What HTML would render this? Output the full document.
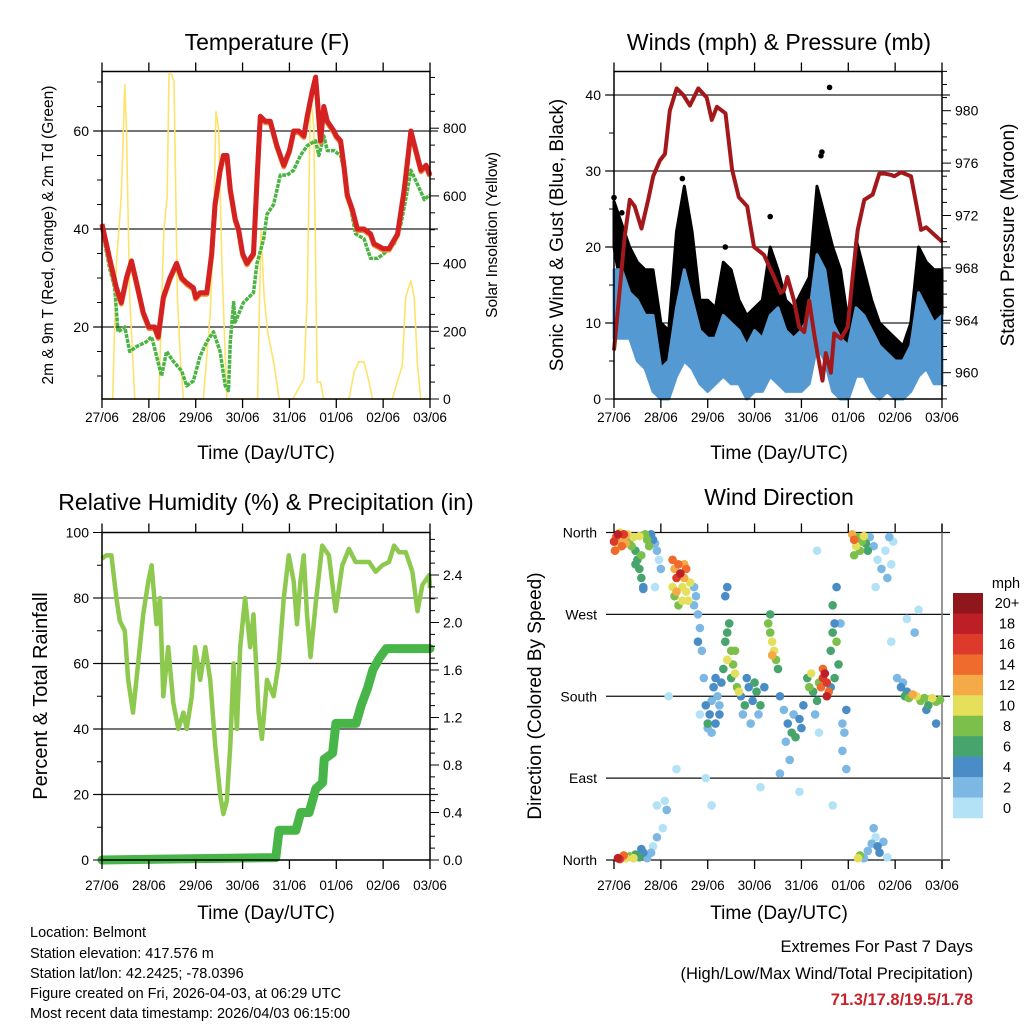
<!DOCTYPE html>
<html><head><meta charset="utf-8">
<style>
html,body{margin:0;padding:0;background:#fff;}
svg{display:block;font-family:"Liberation Sans",sans-serif;}
</style></head>
<body>
<svg id="root" width="1024" height="1024" viewBox="0 0 1024 1024" xmlns="http://www.w3.org/2000/svg">
<rect x="0" y="0" width="1024" height="1024" fill="#fff"/>
<g id="g-temp"></g>
<g id="g-wind"></g>
<g id="g-rh"></g>
<g id="g-dir"></g>

<text x="267" y="50" font-size="23" text-anchor="middle">Temperature (F)</text>
<text x="779" y="50" font-size="23" text-anchor="middle">Winds (mph) &amp; Pressure (mb)</text>
<text x="266" y="510" font-size="23" text-anchor="middle">Relative Humidity (%) &amp; Precipitation (in)</text>
<text x="779" y="505" font-size="23" text-anchor="middle">Wind Direction</text>

<text x="266" y="459" font-size="19" text-anchor="middle">Time (Day/UTC)</text>
<text x="779" y="459" font-size="19" text-anchor="middle">Time (Day/UTC)</text>
<text x="266" y="919" font-size="19" text-anchor="middle">Time (Day/UTC)</text>
<text x="779" y="919" font-size="19" text-anchor="middle">Time (Day/UTC)</text>

<text transform="translate(53,235) rotate(-90)" font-size="15.5" text-anchor="middle">2m &amp; 9m T (Red, Orange) &amp; 2m Td (Green)</text>
<text transform="translate(497,235) rotate(-90)" font-size="15.5" text-anchor="middle">Solar Insolation (Yellow)</text>
<text transform="translate(563,235) rotate(-90)" font-size="19" text-anchor="middle">Sonic Wind &amp; Gust (Blue, Black)</text>
<text transform="translate(1014,235) rotate(-90)" font-size="19" text-anchor="middle">Station Pressure (Maroon)</text>
<text transform="translate(47,696) rotate(-90)" font-size="20" text-anchor="middle">Percent &amp; Total Rainfall</text>
<text transform="translate(541,696) rotate(-90)" font-size="19" text-anchor="middle">Direction (Colored By Speed)</text>

<g font-size="14.5">
<text x="30" y="937">Location: Belmont</text>
<text x="30" y="958">Station elevation: 417.576 m</text>
<text x="30" y="978">Station lat/lon: 42.2425; -78.0396</text>
<text x="30" y="998">Figure created on Fri, 2026-04-03, at 06:29 UTC</text>
<text x="30" y="1018">Most recent data timestamp: 2026/04/03 06:15:00</text>
</g>
<g font-size="16.5" text-anchor="end">
<text x="973" y="952">Extremes For Past 7 Days</text>
<text x="973" y="979">(High/Low/Max Wind/Total Precipitation)</text>
<text x="973" y="1005" fill="#c8232c" font-weight="bold">71.3/17.8/19.5/1.78</text>
</g>
</svg>
<script>
// ---------- data ----------
const dayLabels = ["27/06","28/06","29/06","30/06","31/06","01/06","02/06","03/06"];
const tHours = [0,3.9,7.4,9.9,12.5,15.1,17.7,21.1,24,27,28.8,31.4,34.8,38.2,40.8,43.4,46.8,48,50.2,53.7,56.2,57.9,60.5,62.2,64,65.7,68.2,69.9,72,74.2,77.6,79.4,81.1,83.6,86.2,89.6,93.1,96,98.2,100.8,103.4,105.1,107.6,109.4,110.2,111.9,113.6,115.4,118.8,120,122.2,123.9,125.6,128.2,130.8,134.2,137.6,139.3,144,147,151.4,154.8,158.2,160.8,163.4,166,168];
const tempRed = [41,34,28,25,30,33.5,29,23,20,20,18,26,30,33,30,29,28,26,27,27,35,45,52,55,55,48,42,40,35,33,35,50,63,62,62,57,53,56,60,60,59,63,68,71,67,58,65,62,60,59,58,53,47,44,40,40,39,37,36,36,39,48,60,56,52,53,51];
const tdHours = [0,3.9,6.5,8.2,11.7,14.2,17.7,22.8,25.4,28,30.5,33.1,36.5,40.8,43.4,46.8,50.2,53.7,57.1,60.5,63.1,64.8,65.7,67.4,68.2,72.5,77.6,79.4,82.8,84.5,87.9,91.3,94.8,98.2,101.6,105.1,109.4,111.1,113.6,115.4,118.8,122.2,123.9,126.5,129.9,134.2,137.6,141.1,144.5,149.7,153.1,156.5,158.2,161.7,165.1,168];
const tempGreen = [40,32,28,19,20,15,16,17,18,14,10,15,13,11,8,9,14,17,19,15,8,7,17,25,21,25,27,33,38,43,45,51,51,52,55,57,58,55,59,56,56,55,52,46,39,38,34,34,35,37,41,48,52,49,46,47];
const solHours = [0,5.5,7.4,9.9,11.7,12.5,14.2,16.8,17.5,29.1,31.7,33.4,34.3,35.5,36.9,38.6,40.3,41.7,51.9,55.4,57.1,58.4,59.7,61.4,63.9,66,79.7,81.4,83.1,84.8,86.5,88.2,90.7,97.8,103.4,105.1,106.8,108.5,110.2,111.9,113.6,115.4,126.5,129.1,131.6,134.2,136.8,138.5,140.2,148.7,153.8,155.5,158.2,159.9,161.6,163.3,168];
const solar = [0,0,400,600,930,800,300,0,0,0,500,600,960,960,940,300,100,0,0,250,500,850,800,400,0,0,0,500,300,200,150,100,0,0,60,300,900,800,50,50,0,0,0,80,110,110,50,0,0,0,100,300,350,300,100,0,0];
const presHours = [0,2.9,5.5,8.1,10.6,14.1,17.5,20.1,23.5,26.1,28.6,32.1,35.5,38.9,43.2,47.5,50.1,52.7,57.1,60.5,63.9,68.2,71.7,76.8,82,85.4,87.1,88.8,92.2,94.8,97.4,100,102.5,104.2,106.8,108.5,111.1,112.8,116.2,119.7,122.2,124.8,128.2,132.5,135.9,138.5,141.9,143.6,147,152.1,157.3,159.9,168];
const pressure = [961.7,966.3,970.4,973.2,972.7,971,973.2,975,976.2,976.7,980,981.7,981.2,980.4,981.7,981,979.3,980.3,979.8,975.5,973.4,972.7,969.6,969,967.3,966.1,966.3,967.3,965.5,963.5,963.1,965.5,963,961.5,959.4,961.5,960,963,962.6,963.5,967.3,970.9,973.2,973.6,975.2,975.2,975.1,975,975.3,975,970.9,971.1,970];
const windHours = [0,4,8,12,16,20,24,28,32,36,40,44,48,52,56,60,64,68,72,76,80,84,88,92,96,100,104,108,112,116,120,124,128,132,136,140,144,148,152,156,160,164,168];
const gustHi = [26,23,20,18,17,17,10,9,22,28,22,13,13,12,18,17,13,11,12,13,20,17,13,12,14,16,28,24,20,17,10,21,17,13,10,9,8,7,10,20,18,17,17];
const gustLo = [20,14,12,10,8,4,2,2,8,12,8,4,3,5,8,8,5,3,4,5,8,8,5,4,5,6,12,10,4,3,2,8,7,4,3,3,2,2,3,6,8,5,6];
const windHi = [17,17,14,13,11,11,4,5,12,17,13,9,8,8,11,10,9,7,9,8,11,12,9,8,9,11,19,17,10,8,7,12,11,9,7,6,5,5,7,14,12,10,11];
const windLo = [8,8,8,5,4,1,0,0,3,5,4,2,1,2,3,2,2,0,1,1,3,2,1,1,1,2,7,5,1,0,0,3,3,1,0,1,0,0,1,3,4,2,2];
const gustOutlierHours = [35,106,106.5,110.4,4,0,57,80];
const gustOutliers = [29,32,32.5,41,24.5,26.5,20,24];
const rhHours = [0,2.2,4.8,7.4,9.1,11.7,13.4,15.9,18.5,21.1,23.7,25.4,27.9,29.7,31.4,33.9,36.5,39.1,41.7,43.4,46,47.7,50.3,52.9,55.4,58,60.5,62.2,63.9,65.7,67.4,69.1,70.8,73.3,75.9,77.6,80.2,81.9,84.5,87.9,90.5,93.1,95.7,98.2,99.9,101.6,103.3,105,106.8,109.4,112.8,116.2,119.7,123.1,126.5,129.9,133.4,136.8,140.2,143.6,147,149.6,152.1,155.6,159];
const rh = [92,93,93,80,73,70,55,45,60,75,85,90,72,80,50,65,48,40,45,40,50,65,55,65,55,35,20,14,18,35,60,40,65,80,65,75,45,37,55,50,60,80,93,85,72,85,93,75,62,78,96,93,76,90,95,91,91,91,88,90,91,96,94,94,88];
const rh2Hours = [159,161.6,164.1,167.6,168];
const rh2 = [88,76,84,87,83];
const prHours = [0,89,90.7,99.3,101.8,106.1,109.5,113,113.8,118.1,119.8,130.1,132.7,136.1,138.7,142.1,145.6,168];
const precip = [0,0.02,0.25,0.25,0.4,0.4,0.6,0.65,0.85,0.9,1.15,1.15,1.3,1.45,1.6,1.7,1.78,1.78];
const speedColors = ["#b3e2f7","#7cb8e3","#4a8cc5","#46a46c","#7cc04b","#e5e05b","#f5aa48","#ef6a2d","#dd3a2b","#be1e26","#8f161b"];
const speedLabels = ["0","2","4","6","8","10","12","14","16","18","20+"];
const dirHours = [0,1,2,3,4,5,6,0.5,2,3,4.5,6,7,8,9,10,11,12,13,14,15,15,13,16,17,18,11,14,19,20,21,22,23,21,24,30,31,32,33,34,35,36,37,38,31,33,35,36,37,39,30,32,41,42,43,44,43,45,41,46,47,48,49,50,51,52,53,54,52,48,50,55,54,57,58,59,60,61,62,63,64,58,60,56,62,57,58,65,67,69,71,73,75,77,66,70,74,68,72,79,80,81,82,83,80,84,81,85,87,89,91,93,95,97,88,92,90,96,99,100,102,104,105,101,103,106,107,108,109,110,107,109,111,112,113,114,115,113,112,111,114,117,118,119,117,119,122,123,124,125,126,127,128,129,130,123,131,133,135,137,139,141,143,142,134,140,145,147,149,151,153,155,157,159,161,163,165,167,150,160,148,165,2,3,4,5,6,8,10,11,13,15,14,17,19,20,22,25,27,26,22,125,126,128,130,132,134,136,138,140,133,135,28,32,44,47,50,75,85,95,105,112,142,150,154,156,116,104];
const dirDeg = [350,355,358,352,345,358,348,340,343,360,355,357,358,352,345,355,340,330,320,310,300,298,356,358,352,345,325,335,358,352,348,340,330,300,320,330,320,310,325,315,300,310,295,285,290,280,285,325,320,305,300,295,300,290,270,255,240,230,280,200,170,150,160,175,190,200,180,160,150,145,140,195,170,240,250,260,230,215,205,190,185,220,200,210,230,290,300,180,170,190,175,185,170,190,160,150,160,200,195,260,250,240,230,220,270,210,225,180,165,150,140,135,155,170,130,160,110,145,200,190,185,175,195,205,160,190,200,205,195,185,210,180,230,250,260,240,215,200,280,190,300,150,140,165,120,100,358,352,345,355,340,350,356,348,340,335,355,345,330,320,340,355,350,325,300,310,200,190,180,178,182,180,175,178,170,178,174,176,185,165,195,150,2,1,3,5,2,4,2,6,3,8,12,2,8,15,25,35,55,65,60,2,5,2,10,18,25,8,20,3,35,15,180,100,160,90,60,80,95,75,140,60,240,265,250,275,260,340];
const dirSpeed = [16,14,18,12,15,17,13,14,11,10,12,12,10,9,8,10,7,6,7,6,4,4,11,9,8,8,6,8,5,4,3,2,1,1,2,14,12,16,14,18,10,12,10,11,8,8,10,12,14,10,10,12,3,3,2,3,4,2,3,2,4,6,4,3,4,5,3,4,4,2,2,4,2,6,7,6,8,9,10,8,10,10,7,6,8,4,4,4,6,5,4,6,7,4,3,3,2,5,6,8,9,10,11,9,7,6,12,4,3,5,6,7,4,5,3,2,2,4,7,8,7,6,9,10,3,14,16,18,17,15,14,19,7,6,5,8,7,6,6,4,4,3,2,4,2,2,12,14,10,8,8,9,10,7,6,8,3,2,1,2,1,2,1,1,1,2,3,4,6,8,12,10,9,8,6,10,8,8,4,4,2,4,18,16,12,14,10,8,10,6,6,4,4,2,2,1,2,1,2,1,1,10,8,2,2,2,1,4,2,1,2,4,1,1,1,1,1,1,2,1,1,1,1,1,2,1,2,1];

// ---------- helpers ----------
const NS = "http://www.w3.org/2000/svg";
function mk(parent, tag, attrs){
  const e = document.createElementNS(NS, tag);
  for (const k in attrs) e.setAttribute(k, attrs[k]);
  parent.appendChild(e);
  return e;
}
function pathFrom(xs, ys, fx, fy){
  let d = "";
  for (let i=0;i<xs.length;i++) d += (i?"L":"M") + fx(xs[i]).toFixed(1) + " " + fy(ys[i]).toFixed(1);
  return d;
}
function band(xs, lo, hi, fx, fy){
  let d = "";
  for (let i=0;i<xs.length;i++) d += (i?"L":"M") + fx(xs[i]).toFixed(1) + " " + fy(hi[i]).toFixed(1);
  for (let i=xs.length-1;i>=0;i--) d += "L" + fx(xs[i]).toFixed(1) + " " + fy(lo[i]).toFixed(1);
  return d + "Z";
}
function xAxis(g, x0, x1, yTop, yBot, labelY){
  const fx = h => x0 + h*(x1-x0)/168;
  for (let i=0;i<dayLabels.length;i++){
    const x = fx(i*24);
    const t1 = mk(g,"line",{x1:x,y1:yBot,x2:x,y2:yBot+9,stroke:"#000","stroke-width":1.3});
    
    
    const t2 = mk(g,"line",{x1:x,y1:yTop,x2:x,y2:yTop-9,stroke:"#000","stroke-width":1.3});
    
    
    const tx = mk(g,"text",{x:x,y:labelY,"font-size":13.5,"text-anchor":"middle"});
    tx.textContent = dayLabels[i];
    
    
  }
}
function yTicks(g, side, x, vmin, vmax, major, minor, fy, fmt, majorBase){
  const dir = side==="left" ? -1 : 1;
  const base = majorBase===undefined ? 0 : majorBase;
  for (let v=vmin; v<=vmax+1e-9; v+=minor){
    const q = (v-base)/major;
    const isMajor = Math.abs(q - Math.round(q)) < 1e-6;
    const y = fy(v);
    const t = mk(g,"line",{x1:x,y1:y,x2:x+dir*(isMajor?9:5),y2:y,stroke:"#000","stroke-width":1});
    
    
    if (isMajor){
      const tx = mk(g,"text",{x:x+dir*13,y:y+5,"font-size":14,"text-anchor":side==="left"?"end":"start"});
      tx.textContent = fmt(v);
      
      
    }
  }
}
function hline(g, x0, x1, y, col){
  const l = mk(g,"line",{x1:x0,y1:y,x2:x1,y2:y,stroke:col||"#000","stroke-width":1.2});
  
  
}

// ---------- Temperature ----------
(function(){
  const g = document.getElementById("g-temp");
  const X0=102, X1=430, YT=71.5, YB=399;
  const fx = h => X0 + h*(X1-X0)/168;
  const fy = v => 327 - (v-20)*4.9;
  const fs = w => 399 - w*0.3385;
  [20,40,60].forEach(v=>hline(g,X0-8,X1+8,fy(v),"#222"));
  const sol = mk(g,"path",{d:pathFrom(solHours,solar,fx,fs),fill:"none",stroke:"#fde36d","stroke-width":1.6});
  
  
  const gr = mk(g,"path",{d:pathFrom(tdHours,tempGreen,fx,fy),fill:"none",stroke:"#4cb444","stroke-width":3.5,"stroke-dasharray":"4 1","stroke-linejoin":"round"});
  
  
  const or = mk(g,"path",{d:pathFrom(tHours,tempRed,fx,v=>fy(v)+1.5),fill:"none",stroke:"#f28a33","stroke-width":5,"stroke-linejoin":"round"});
  
  
  const rd = mk(g,"path",{d:pathFrom(tHours,tempRed,fx,fy),fill:"none",stroke:"#d42222","stroke-width":5,"stroke-linejoin":"round"});
  
  
  const fr = mk(g,"rect",{x:X0,y:YT,width:X1-X0,height:YB-YT,fill:"none",stroke:"#000","stroke-width":1.5});
  
  
  xAxis(g,X0,X1,YT,YB,422);
  yTicks(g,"left",X0,10,70,20,5,fy,v=>String(v));
  yTicks(g,"right",X1,0,950,200,50,fs,v=>String(v));
})();

// ---------- Winds ----------
(function(){
  const g = document.getElementById("g-wind");
  const X0=614, X1=942, YT=71.5, YB=399;
  const fx = h => X0 + h*(X1-X0)/168;
  const fy = v => 399 - v*7.6;
  const fp = p => 372.7 - (p-960)*13.1;
  [10,20,30,40].forEach(v=>hline(g,X0-8,X1+8,fy(v),"#222"));
  const gb = mk(g,"path",{d:band(windHours,gustLo,gustHi,fx,fy),fill:"#000",stroke:"#000","stroke-width":3,"stroke-linejoin":"round"});
  
  
  for (let i=0;i<gustOutliers.length;i++){
    const c = mk(g,"circle",{cx:fx(gustOutlierHours[i]),cy:fy(gustOutliers[i]),r:2.8,fill:"#000"});
    
    
  }
  const wb = mk(g,"path",{d:band(windHours,windLo,windHi,fx,fy),fill:"#5599d3",stroke:"#5599d3","stroke-width":3,"stroke-linejoin":"round"});
  
  
  const pl = mk(g,"path",{d:pathFrom(presHours,pressure,fx,fp),fill:"none",stroke:"#a3191b","stroke-width":4,"stroke-linejoin":"round"});
  
  
  const fr = mk(g,"rect",{x:X0,y:YT,width:X1-X0,height:YB-YT,fill:"none",stroke:"#000","stroke-width":1.5});
  
  
  xAxis(g,X0,X1,YT,YB,422);
  yTicks(g,"left",X0,0,40,10,5,fy,v=>String(v));
  yTicks(g,"right",X1,958,983,4,1,fp,v=>String(v),960);
})();

// ---------- RH ----------
(function(){
  const g = document.getElementById("g-rh");
  const X0=102, X1=430, YT=532.5, YB=860;
  const fx = h => X0 + h*(X1-X0)/168;
  const fy = v => 860 - v*3.275;
  const fp = i => 860 - i*118.75;
  [20,40,60].forEach(v=>hline(g,X0-8,X1+8,fy(v),"#222"));
  hline(g,X0-8,X1+8,fy(80),"#666");
  const rl = mk(g,"path",{d:pathFrom(rhHours,rh,fx,fy)+pathFrom(rh2Hours,rh2,fx,fy),fill:"none",stroke:"#8dc84f","stroke-width":4.5,"stroke-linejoin":"round"});
  
  
  const pr = mk(g,"path",{d:pathFrom(prHours,precip,fx,fp),fill:"none",stroke:"#48b548","stroke-width":9,"stroke-linejoin":"round","stroke-linecap":"round"});
  
  
  const fr = mk(g,"rect",{x:X0,y:YT,width:X1-X0,height:YB-YT,fill:"none",stroke:"#000","stroke-width":1.5});
  
  
  xAxis(g,X0,X1,YT,YB,890);
  yTicks(g,"left",X0,0,100,20,10,fy,v=>String(v));
  yTicks(g,"right",X1,0,2.7,0.4,0.1,fp,v=>v.toFixed(1));
})();

// ---------- Wind direction ----------
(function(){
  const g = document.getElementById("g-dir");
  const X0=614, X1=942, YT=532.5, YB=860;
  const fx = h => X0 + h*(X1-X0)/168;
  const fy = d => 860 - d*(YB-YT)/360;
  const names = ["North","East","South","West","North"];
  for (let i=0;i<5;i++){
    const y = fy(i*90);
    hline(g,X0-8,X1+8,y,"#111");
    const t = mk(g,"text",{x:597,y:y+5,"font-size":14,"text-anchor":"end"});
    t.textContent = names[i];
    
    
  }
  const rl = mk(g,"line",{x1:X1,y1:YT-9,x2:X1,y2:YB+9,stroke:"#777","stroke-width":1.5});
  
  
  const order = dirSpeed.map((s,i)=>i).sort((a,b)=>dirSpeed[a]-dirSpeed[b]);
  for (const i of order){
    const ci = Math.min(10, Math.floor(dirSpeed[i]/2));
    const c = mk(g,"circle",{cx:fx(dirHours[i]),cy:fy(dirDeg[i]),r:4.3,fill:speedColors[ci]});
    
    
  }
  xAxis(g,X0,X1,YT,YB,890);
  // colorbar
  const cbTop=593, cbH=225/11;
  for (let k=0;k<11;k++){
    const idx = 10-k;
    const r = mk(g,"rect",{x:953,y:cbTop+k*cbH,width:30,height:cbH+0.3,fill:speedColors[idx]});
    
    
    const t = mk(g,"text",{x:1007,y:cbTop+k*cbH+cbH/2+5,"font-size":14.5,"text-anchor":"middle"});
    t.textContent = speedLabels[idx];
    
    
  }
  const u = mk(g,"text",{x:1006,y:588,"font-size":14.5,"text-anchor":"middle"});
  u.textContent = "mph";
  
  
})();
</script>
</body></html>
